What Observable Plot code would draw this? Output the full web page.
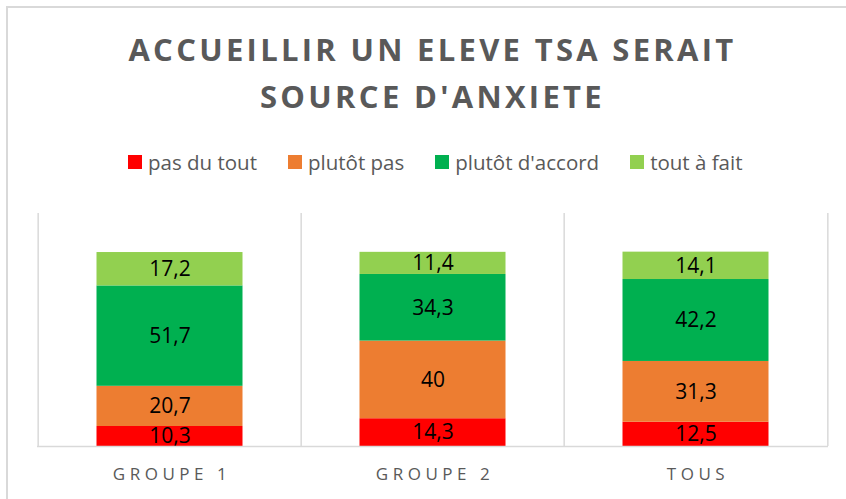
<!DOCTYPE html>
<html>
<head>
<meta charset="utf-8">
<script src="https://cdn.jsdelivr.net/npm/d3@7"></script>
<script src="https://cdn.jsdelivr.net/npm/@observablehq/plot@0.6"></script>
<style>
  body { margin: 0; background: #fff; font-family: "Open Sans", sans-serif; }
  #wrap { position: relative; width: 846px; height: 499px; overflow: hidden; background: #fff; }
  #frame { position: absolute; left: 6px; top: 6px; width: 900px; height: 900px; border: 2px solid #D9D9D9; box-sizing: border-box; }
  #title { position: absolute; left: 0; top: 26px; width: 865px; text-align: center; font-weight: 700; font-size: 31px; line-height: 47px; letter-spacing: 3.3px; color: #595959; }
  #legend { position: absolute; left: 128px; top: 148px; display: flex; gap: 31px; font-size: 20.5px; color: #595959; white-space: nowrap; }
  #legend .item { display: flex; align-items: center; gap: 6px; }
  #legend .sw { width: 14px; height: 14px; display: inline-block; }
  #chart { position: absolute; left: 0; top: 190px; }
  #chart g[aria-label="x-axis tick label"] text { letter-spacing: 4.5px; }
</style>
</head>
<body>
<div id="wrap">
  <div id="frame"></div>
  <div id="title">ACCUEILLIR UN ELEVE TSA SERAIT<br>SOURCE D'ANXIETE</div>
  <div id="legend"></div>
  <div id="chart"></div>
</div>
<script>
const groups = ["GROUPE 1", "GROUPE 2", "TOUS"];
const categories = ["pas du tout", "plutôt pas", "plutôt d'accord", "tout à fait"];
const colors = ["#FF0000", "#ED7D31", "#00B050", "#92D050"];
const pasDuTout = [10.3, 14.3, 12.5];
const plutotPas = [20.7, 40, 31.3];
const plutotDaccord = [51.7, 34.3, 42.2];
const toutAFait = [17.2, 11.4, 14.1];

const series = [pasDuTout, plutotPas, plutotDaccord, toutAFait];
const data = [];
groups.forEach((g, gi) => {
  categories.forEach((c, ci) => {
    data.push({ group: g, cat: c, value: series[ci][gi] });
  });
});

// legend
const legend = document.getElementById("legend");
categories.forEach((c, i) => {
  const it = document.createElement("div");
  it.className = "item";
  it.innerHTML = `<span class="sw" style="background:${colors[i]}"></span><span>${c}</span>`;
  legend.appendChild(it);
});

const W = 846, H = 309;
const mL = 37, mR = 18, mT = 23, mB = 53;
const bw = (W - mL - mR) / groups.length;

const plot = Plot.plot({
  width: W,
  height: H,
  marginLeft: mL,
  marginRight: mR,
  marginTop: mT,
  marginBottom: mB,
  style: { fontFamily: "Open Sans, sans-serif", background: "transparent" },
  x: { domain: groups, padding: 0, label: null },
  y: { domain: [0, 120], axis: null },
  color: { domain: categories, range: colors },
  marks: [
    Plot.ruleX(groups, { x: d => d, dx: -bw / 2, stroke: "#D9D9D9", strokeWidth: 1.5 }),
    Plot.ruleX(groups.slice(-1), { x: d => d, dx: bw / 2, stroke: "#D9D9D9", strokeWidth: 1.5 }),
    Plot.barY(data, Plot.stackY({ x: "group", y: "value", fill: "cat", order: categories, insetLeft: 58.5, insetRight: 58.5 })),
    Plot.text(data, Plot.stackY({ x: "group", y: "value", z: "cat", order: categories, text: d => String(d.value).replace(".", ","), fontSize: 21, fill: "#000" })),
    Plot.ruleY([0], { stroke: "#D9D9D9", strokeWidth: 1.5 }),
    Plot.axisX({ tickSize: 0, tickPadding: 21, fontSize: 17, fill: "#595959", dx: 2, label: null })
  ]
});
document.getElementById("chart").appendChild(plot);
</script>
</body>
</html>
